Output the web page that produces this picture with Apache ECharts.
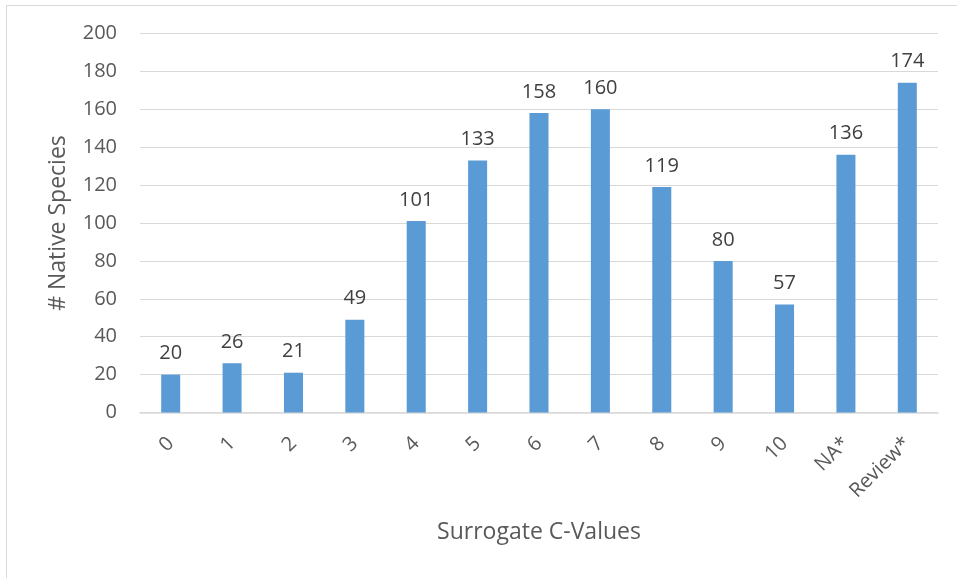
<!DOCTYPE html>
<html>
<head>
<meta charset="utf-8">
<script src="https://cdn.jsdelivr.net/npm/echarts@6/dist/echarts.min.js"></script>
<style>
  html, body { margin: 0; padding: 0; background: #fff; }
  #chart { width: 957px; height: 578px; }
</style>
</head>
<body>
<div id="chart"></div>
<script>
// Count of native species per surrogate C-value class
const categories = ['0', '1', '2', '3', '4', '5', '6', '7', '8', '9', '10', 'NA*', 'Review*'];
const speciesCounts = [20, 26, 21, 49, 101, 133, 158, 160, 119, 80, 57, 136, 174];
const yTicks = { min: 0, max: 200, interval: 20 };

const font = '"Open Sans", "Noto Sans", sans-serif';
const textColor = '#595959';

const chart = echarts.init(document.getElementById('chart'), null, { renderer: 'canvas' });
chart.setOption({
  animation: false,
  backgroundColor: '#ffffff',
  grid: { left: 140, right: 19, top: 33.5, bottom: 165.5, containLabel: false },
  graphic: [
    { type: 'line', shape: { x1: 6.5, y1: 5, x2: 6.5, y2: 578 }, style: { stroke: '#d9d9d9', lineWidth: 1 } },
    { type: 'line', shape: { x1: 6, y1: 5.5, x2: 957, y2: 5.5 }, style: { stroke: '#d9d9d9', lineWidth: 1 } }
  ],
  xAxis: {
    type: 'category',
    data: categories,
    name: 'Surrogate C-Values',
    nameLocation: 'middle',
    nameGap: 108,
    nameTextStyle: { fontFamily: font, fontSize: 23, color: textColor },
    axisLine: { lineStyle: { color: '#d9d9d9', width: 1.5 } },
    axisTick: { show: false },
    axisLabel: {
      rotate: 45,
      fontFamily: font,
      fontSize: 20,
      color: textColor,
      margin: 28,
      interval: 0
    }
  },
  yAxis: {
    type: 'value',
    min: yTicks.min,
    max: yTicks.max,
    interval: yTicks.interval,
    name: '# Native Species',
    nameLocation: 'middle',
    nameGap: 70,
    nameTextStyle: { fontFamily: font, fontSize: 23, color: textColor },
    axisLine: { show: false },
    axisTick: { show: false },
    axisLabel: { fontFamily: font, fontSize: 20, color: textColor, margin: 23 },
    splitLine: { lineStyle: { color: '#d9d9d9', width: 1 } }
  },
  series: [{
    type: 'bar',
    data: speciesCounts,
    barWidth: '31%',
    itemStyle: { color: '#5b9bd5' },
    label: {
      show: true,
      position: 'top',
      distance: 11,
      fontFamily: font,
      fontSize: 20,
      color: '#404040'
    }
  }]
});
</script>
</body>
</html>
